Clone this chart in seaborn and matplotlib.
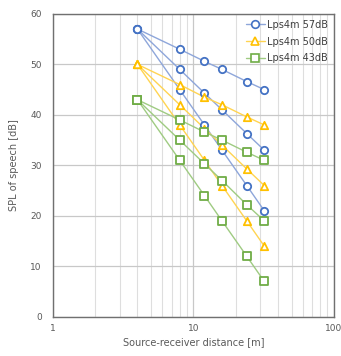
import pandas as pd
import numpy as np
import matplotlib
matplotlib.use("Agg")
import matplotlib.pyplot as plt
import seaborn as sns
from matplotlib.lines import Line2D

# distances [m]
distance = [4, 8, 12, 16, 24, 32]

# SPL values, three decay curves per source level
spl_57 = [
    [57, 53, 50.6, 49, 46.6, 45],
    [57, 49, 44.3, 41, 36.3, 33],
    [57, 45, 38, 33, 26, 21],
]
spl_50 = [
    [50, 46, 43.5, 42, 39.6, 38],
    [50, 42, 37.3, 34, 29.3, 26],
    [50, 38, 31, 26, 19, 14],
]
spl_43 = [
    [43, 39, 36.6, 35, 32.6, 31],
    [43, 35, 30.3, 27, 22.2, 19],
    [43, 31, 24, 19, 12, 7],
]
series_names = ["Lps4m 57dB", "Lps4m 50dB", "Lps4m 43dB"]

# build long table
rows = []
for name, curves in zip(series_names, [spl_57, spl_50, spl_43]):
    for k, vals in enumerate(curves):
        for d, v in zip(distance, vals):
            rows.append({"series": name, "curve": f"{name}-{k}", "distance": d, "spl": v})
df = pd.DataFrame(rows)

marker_col = {"Lps4m 57dB": "#4472c4", "Lps4m 50dB": "#ffc000", "Lps4m 43dB": "#70ad47"}
line_col = {"Lps4m 57dB": "#8ea6da", "Lps4m 50dB": "#ffd452", "Lps4m 43dB": "#9fcb82"}
marker_shape = {"Lps4m 57dB": "o", "Lps4m 50dB": "^", "Lps4m 43dB": "s"}

sns.set_style("white")
plt.rcParams["font.family"] = ["DejaVu Sans"]

fig = plt.figure(figsize=(3.41, 3.56), dpi=100)
ax = fig.add_axes([0.155, 0.110, 0.824, 0.851])

# lines
sns.lineplot(data=df, x="distance", y="spl", hue="series", units="curve",
             estimator=None, palette=line_col, linewidth=1.0, legend=False,
             sort=False, ax=ax)

# open markers
for name in series_names:
    sub = df[df["series"] == name]
    sns.scatterplot(data=sub, x="distance", y="spl", marker=marker_shape[name],
                    s=28, facecolor="white", edgecolor=marker_col[name],
                    linewidth=1.3, legend=False, ax=ax, zorder=3)

ax.set_xscale("log")
ax.set_xlim(1, 100)
ax.set_ylim(0, 60)
ax.set_yticks(range(0, 61, 10))
ax.set_xticks([1, 10, 100])
ax.set_xticklabels(["1", "10", "100"])

ax.grid(True, which="major", axis="y", color="#c8c8c8", linewidth=0.9)
ax.grid(True, which="major", axis="x", color="#c8c8c8", linewidth=0.9)
ax.grid(True, which="minor", axis="x", color="#dedede", linewidth=0.8)
ax.set_axisbelow(True)

for sp in ax.spines.values():
    sp.set_color("#707070")
    sp.set_linewidth(1.0)

ax.tick_params(axis="y", which="both", length=0, labelsize=6.5,
               labelcolor="#595959", pad=8)
ax.tick_params(axis="x", which="both", length=0, labelsize=6.5,
               labelcolor="#595959", pad=5)

ax.set_xlabel("Source-receiver distance [m]", fontsize=7, color="#595959", labelpad=3)
ax.set_ylabel("SPL of speech [dB]", fontsize=7, color="#595959", labelpad=8)

handles = [Line2D([0], [0], color=line_col[n], linewidth=1.0, marker=marker_shape[n],
                  markersize=5.5, markerfacecolor="white", markeredgecolor=marker_col[n],
                  markeredgewidth=1.2) for n in series_names]
leg = ax.legend(handles, series_names, loc="upper right", frameon=False,
                fontsize=7, handlelength=2.0, handletextpad=0.2,
                labelspacing=0.7, borderaxespad=0.2)
for t in leg.get_texts():
    t.set_color("#404040")

fig.savefig("out.png", dpi=100)
